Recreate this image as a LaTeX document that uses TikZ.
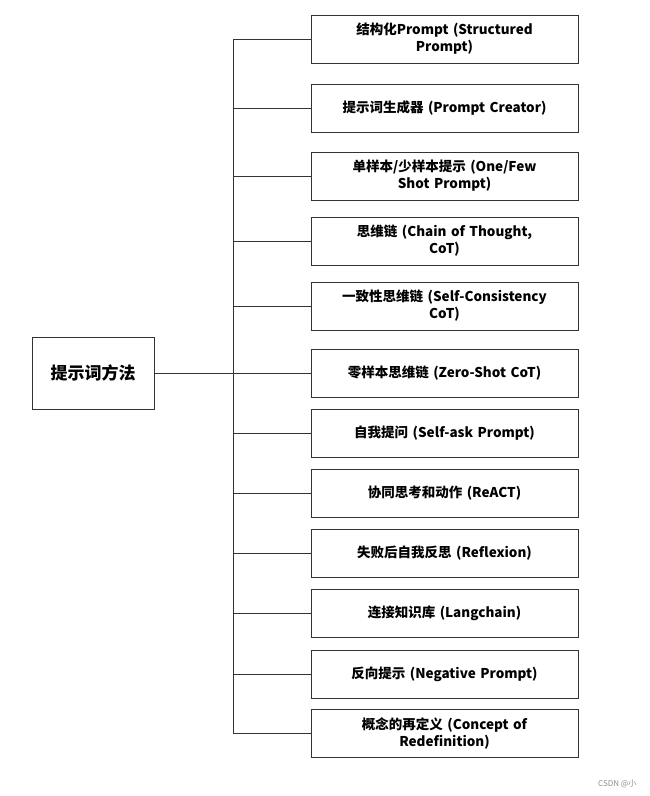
\documentclass[tikz,border=0pt]{standalone}
\usepackage{fontspec}
\setmainfont{Noto Sans CJK SC}
\usetikzlibrary{positioning}
\tikzset{
  leaf/.style={draw=black!80,line width=0.8pt,minimum width=267pt,minimum height=48pt,
    text width=255pt,align=center,font=\fontsize{13.5}{17}\selectfont\bfseries,inner sep=2pt},
  root/.style={draw=black!80,line width=0.8pt,minimum width=122pt,minimum height=72pt,
    font=\fontsize{17}{20}\selectfont\bfseries},
  link/.style={draw=black!80,line width=0.8pt}
}
\begin{document}
\begin{tikzpicture}[x=1pt,y=-1pt]
  \useasboundingbox (0,0) rectangle (649,796);
  \node[root] (root) at (93,373) {提示词方法};
  \coordinate (trunk) at (233,373);
  \draw[link] (root.east) -- (trunk);
  \draw[link] (233,39) -- (233,733);

  \foreach \name/\y/\txt in {
    s1/39/{结构化Prompt (Structured\\Prompt)},
    s2/108/{提示词生成器 (Prompt Creator)},
    s3/176/{单样本/少样本提示 (One/Few\\Shot Prompt)},
    s4/241/{思维链 (Chain of Thought,\\CoT)},
    s5/306/{一致性思维链 (Self-Consistency\\CoT)},
    s6/373/{零样本思维链 (Zero-Shot CoT)},
    s7/433/{自我提问 (Self-ask Prompt)},
    s8/493/{协同思考和动作 (ReACT)},
    s9/553/{失败后自我反思 (Reflexion)},
    s10/613/{连接知识库 (Langchain)},
    s11/674/{反向提示 (Negative Prompt)},
    s12/733/{概念的再定义 (Concept of\\Redefinition)}}
  {
    \node[leaf] (\name) at (444.5,\y) {\txt};
    \draw[link] (233,\y) -- (\name.west);
  }

  \node[font=\fontsize{8}{10}\selectfont,text=black!45,anchor=east] (mark) at (640,784) {CSDN @小};
\end{tikzpicture}
\end{document}
